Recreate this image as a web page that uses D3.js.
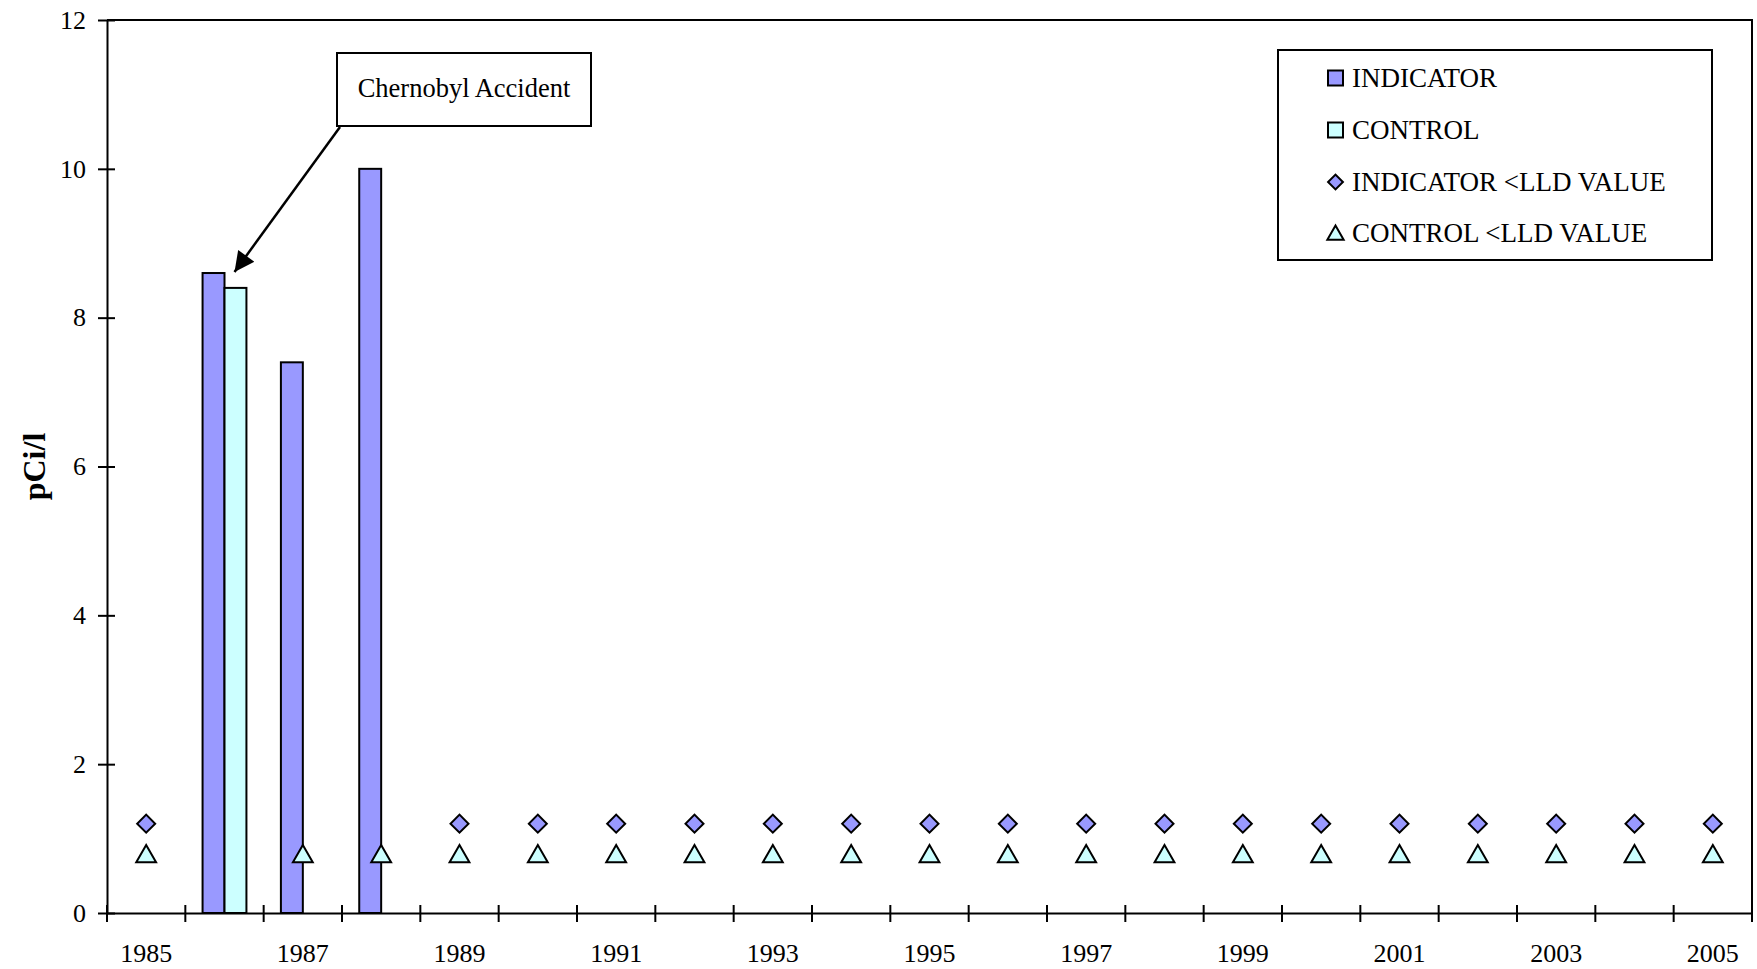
<!DOCTYPE html>
<html>
<head>
<meta charset="utf-8">
<script src="https://cdnjs.cloudflare.com/ajax/libs/d3/7.8.5/d3.min.js"></script>
<style>
  body { margin: 0; background: #fff; }
  text { font-family: "Liberation Serif", "Times New Roman", serif; fill: #000; }
</style>
</head>
<body>
<div id="chart"></div>
<script>
// datos
var years = ["1985","1986","1987","1988","1989","1990","1991","1992","1993","1994","1995",
             "1996","1997","1998","1999","2000","2001","2002","2003","2004","2005"];
var indicator    = [null, 8.6, 7.4, 10, null, null, null, null, null, null, null,
                    null, null, null, null, null, null, null, null, null, null];
var control      = [null, 8.4, null, null, null, null, null, null, null, null, null,
                    null, null, null, null, null, null, null, null, null, null];
var indicatorLLD = [1.2, null, null, null, 1.2, 1.2, 1.2, 1.2, 1.2, 1.2, 1.2,
                    1.2, 1.2, 1.2, 1.2, 1.2, 1.2, 1.2, 1.2, 1.2, 1.2];
var controlLLD   = [0.8, null, 0.8, 0.8, 0.8, 0.8, 0.8, 0.8, 0.8, 0.8, 0.8,
                    0.8, 0.8, 0.8, 0.8, 0.8, 0.8, 0.8, 0.8, 0.8, 0.8];
var yTicks = [0, 2, 4, 6, 8, 10, 12];
var xLabels = ["1985","1987","1989","1991","1993","1995","1997","1999","2001","2003","2005"];
var legendItems = ["INDICATOR", "CONTROL", "INDICATOR <LLD VALUE", "CONTROL <LLD VALUE"];

// parametros
var width = 1757, height = 969;
var plotLeft = 107, plotRight = 1752, plotTop = 20, plotBottom = 913;
var colorInd = "#9999ff", colorCtl = "#ccffff";
var fontSize = 26;

var svg = d3.select("#chart").append("svg")
  .attr("width", width)
  .attr("height", height);

/* Scales */
var x = d3.scaleBand().domain(years).range([plotLeft, plotRight]).padding(0);
var y = d3.scaleLinear().domain([0, 12]).range([plotBottom, plotTop]);

var groupW = x.bandwidth() * 0.56;
var x1 = d3.scaleBand().domain(["ind", "ctl"]).range([0, groupW]);

/* Frame (top + right) */
svg.append("path")
  .attr("d", `M${plotLeft},${plotTop}H${plotRight}V${plotBottom}`)
  .attr("fill", "none").attr("stroke", "#000").attr("stroke-width", 2);

/* Bars */
var barData = [];
years.forEach(function (yr, i) {
  if (indicator[i] != null) barData.push({year: yr, key: "ind", v: indicator[i]});
  if (control[i] != null) barData.push({year: yr, key: "ctl", v: control[i]});
});

svg.append("g").selectAll("rect")
  .data(barData).enter()
  .append("rect")
  .attr("x", d => x(d.year) + (x.bandwidth() - groupW) / 2 + x1(d.key))
  .attr("y", d => y(d.v))
  .attr("width", x1.bandwidth())
  .attr("height", d => y(0) - y(d.v))
  .attr("fill", d => d.key == "ind" ? colorInd : colorCtl)
  .attr("stroke", "#000").attr("stroke-width", 2);

/* Markers */
var diamond = d3.symbol().type(d3.symbolSquare).size(162);
var triH = 18;
var triangle = d3.symbol().type(d3.symbolTriangle).size(170);

svg.append("g").selectAll("path")
  .data(years.map((yr, i) => ({year: yr, v: indicatorLLD[i]})).filter(d => d.v != null))
  .enter().append("path")
  .attr("d", diamond)
  .attr("transform", d => `translate(${x(d.year) + x.bandwidth() / 2},${y(d.v)}) rotate(45)`)
  .attr("fill", colorInd).attr("stroke", "#000").attr("stroke-width", 2);

svg.append("g").selectAll("path")
  .data(years.map((yr, i) => ({year: yr, v: controlLLD[i]})).filter(d => d.v != null))
  .enter().append("path")
  .attr("d", triangle)
  .attr("transform", d => `translate(${x(d.year) + x.bandwidth() / 2},${y(d.v) + triH / 6})`)
  .attr("fill", colorCtl).attr("stroke", "#000").attr("stroke-width", 2);

/* Axes */
var yAxis = d3.axisLeft(y).tickValues(yTicks).tickSizeInner(9).tickSizeOuter(0).tickPadding(12);
var gy = svg.append("g")
  .attr("transform", `translate(${plotLeft},0)`)
  .call(yAxis);
gy.select(".domain").attr("stroke-width", 2);
gy.selectAll(".tick line").attr("stroke-width", 2).attr("x2", -9).attr("x1", 8);
gy.selectAll(".tick text").style("font-size", fontSize + "px")
  .style("font-family", "'Liberation Serif', serif").attr("x", -21);

var xAxis = d3.axisBottom(x).tickValues([]).tickSizeOuter(0);
var gx = svg.append("g")
  .attr("transform", `translate(0,${plotBottom})`)
  .call(xAxis);
gx.select(".domain").attr("stroke-width", 2);

// cross ticks at band boundaries
var bounds = years.map(yr => x(yr)).concat([plotRight]);
gx.selectAll(".bnd").data(bounds).enter()
  .append("line")
  .attr("x1", d => d).attr("x2", d => d)
  .attr("y1", -8).attr("y2", 9)
  .attr("stroke", "#000").attr("stroke-width", 2);

gx.selectAll(".lbl").data(xLabels).enter()
  .append("text")
  .attr("x", d => x(d) + x.bandwidth() / 2)
  .attr("y", 49)
  .attr("text-anchor", "middle")
  .style("font-size", fontSize + "px")
  .text(d => d);

/* Y label */
svg.append("text")
  .attr("transform", `translate(45,${(plotTop + plotBottom) / 2}) rotate(-90)`)
  .attr("text-anchor", "middle")
  .style("font-size", "32px")
  .style("font-weight", "bold")
  .text("pCi/l");

/* Annotation */
var boxX = 337, boxY = 53, boxW = 254, boxH = 73;
svg.append("rect")
  .attr("x", boxX).attr("y", boxY).attr("width", boxW).attr("height", boxH)
  .attr("fill", "#fff").attr("stroke", "#000").attr("stroke-width", 2);
svg.append("text")
  .attr("x", boxX + boxW / 2).attr("y", boxY + 44)
  .attr("text-anchor", "middle")
  .style("font-size", "26.5px")
  .text("Chernobyl Accident");

svg.append("defs").append("marker")
  .attr("id", "arrow")
  .attr("viewBox", "0 0 10 10")
  .attr("refX", 10).attr("refY", 5)
  .attr("markerWidth", 9).attr("markerHeight", 8)
  .attr("markerUnits", "strokeWidth")
  .attr("orient", "auto")
  .append("path").attr("d", "M0,0L10,5L0,10z").attr("fill", "#000");

var tipX = x("1986") + (x.bandwidth() - groupW) / 2 + x1("ctl") + 10;
var tipY = y(indicator[1]) - 1;
svg.append("line")
  .attr("x1", boxX + 3).attr("y1", boxY + boxH + 1)
  .attr("x2", tipX).attr("y2", tipY)
  .attr("stroke", "#000").attr("stroke-width", 2.5)
  .attr("marker-end", "url(#arrow)");

/* Legend */
var lg = svg.append("g");
lg.append("rect")
  .attr("x", 1278).attr("y", 50).attr("width", 434).attr("height", 210)
  .attr("fill", "#fff").attr("stroke", "#000").attr("stroke-width", 2);

var rowY = [78, 130, 182, 233];
var mx = 1335.5;
legendItems.forEach(function (name, i) {
  var g = lg.append("g").attr("transform", `translate(0,${rowY[i]})`);
  if (i < 2) {
    g.append("rect")
      .attr("x", mx - 7.5).attr("y", -7.5).attr("width", 15).attr("height", 15)
      .attr("fill", i == 0 ? colorInd : colorCtl)
      .attr("stroke", "#000").attr("stroke-width", 2);
  } else if (i == 2) {
    g.append("path")
      .attr("d", d3.symbol().type(d3.symbolSquare).size(110))
      .attr("transform", `translate(${mx},0) rotate(45)`)
      .attr("fill", colorInd).attr("stroke", "#000").attr("stroke-width", 2);
  } else {
    g.append("path")
      .attr("d", d3.symbol().type(d3.symbolTriangle).size(115))
      .attr("transform", `translate(${mx},2)`)
      .attr("fill", colorCtl).attr("stroke", "#000").attr("stroke-width", 2);
  }
  g.append("text")
    .attr("x", 1352).attr("y", 0)
    .attr("dy", "0.35em")
    .style("font-size", "27px")
    .text(name);
});
</script>
</body>
</html>
